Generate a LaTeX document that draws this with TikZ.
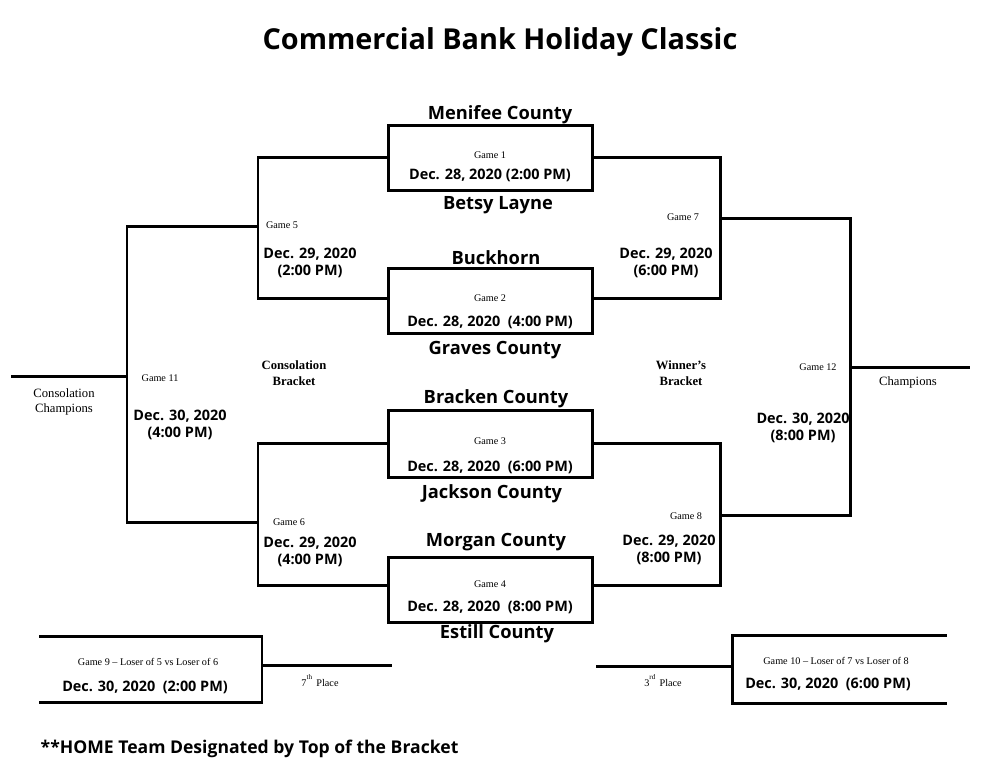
\documentclass[tikz,border=0pt]{standalone}
\usepackage{fontspec}
\setmainfont{Liberation Serif}
\newfontfamily\osans{Open Sans}
\begin{document}
\begin{tikzpicture}[x=0.01cm,y=-0.01cm,
  ln/.style={line width=0.85pt,line cap=rect},
  team/.style={font=\osans\bfseries\fontsize{5.2}{6}\selectfont},
  date/.style={font=\osans\bfseries\fontsize{4.1}{5}\selectfont,align=center},
  gm/.style={font=\fontsize{2.9}{3.4}\selectfont},
  lab/.style={font=\fontsize{3.6}{4.2}\selectfont,align=center},
  blab/.style={font=\bfseries\fontsize{3.6}{4.4}\selectfont,align=center}]
\useasboundingbox (0,0) rectangle (1000,772);
\node[font=\osans\bfseries\fontsize{8.2}{9.5}\selectfont] (title) at (500,42) {Commercial Bank Holiday Classic};
% first round boxes
\foreach \n/\t/\b in {g1/125/190,g2/268/333,g3/410/477,g4/557/622}{
  \draw[ln] (388,\t) rectangle (592,\b);}
\coordinate (c1) at (388,157); \coordinate (c2) at (388,298);
\coordinate (c3) at (388,443); \coordinate (c4) at (388,585);
\coordinate (d1) at (592,157); \coordinate (d2) at (592,298);
\coordinate (d3) at (592,443); \coordinate (d4) at (592,585);
\draw[ln] (c1) -| (258,298) -- (c2);
\draw[ln] (c3) -| (258,585) -- (c4);
\draw[ln] (d1) -| (720,298) -- (d2);
\draw[ln] (d3) -| (720,585) -- (d4);
\draw[ln] (720,218) -| (850,515) -- (720,515);
\draw[ln] (850,367) -- (968,367);
\draw[ln] (258,226) -| (127,522) -- (258,522);
\draw[ln] (127,376) -- (12,376);
\draw[ln] (40,636) -| (262,702) -- (40,702);
\draw[ln] (262,665) -- (390,665);
\draw[ln] (945,635) -| (732,703) -- (945,703);
\draw[ln] (732,666) -- (597,666);
% teams
\node[team] (t1) at (500,115) {Menifee County};
\node[team] (t2) at (498,205) {Betsy Layne};
\node[team] (t3) at (496,258) {Buckhorn};
\node[team] (t4) at (495,350) {Graves County};
\node[team] (t5) at (496,399) {Bracken County};
\node[team] (t6) at (492,494) {Jackson County};
\node[team] (t7) at (496,542) {Morgan County};
\node[team] (t8) at (497,634) {Estill County};
% games
\node[gm] at (490,155) {Game 1};
\node[date] at (490,175) {Dec. 28, 2020 (2:00 PM)};
\node[gm] at (490,298) {Game 2};
\node[date] at (490,322) {Dec. 28, 2020 \ (4:00 PM)};
\node[gm] at (490,441) {Game 3};
\node[date] at (490,467) {Dec. 28, 2020 \ (6:00 PM)};
\node[gm] at (490,584) {Game 4};
\node[date] at (490,607) {Dec. 28, 2020 \ (8:00 PM)};
\node[gm] at (282,225) {Game 5};
\node[date] at (310,263) {Dec. 29, 2020\\(2:00 PM)};
\node[gm] at (289,522) {Game 6};
\node[date] at (310,552) {Dec. 29, 2020\\(4:00 PM)};
\node[gm] at (683,217) {Game 7};
\node[date] at (666,263) {Dec. 29, 2020\\ (6:00 PM)};
\node[gm] at (686,516) {Game 8};
\node[date] at (669,550) {Dec. 29, 2020\\(8:00 PM)};
\node[gm] at (160,378) {Game 11};
\node[date] at (180,425) {Dec. 30, 2020\\(4:00 PM)};
\node[gm] at (818,367) {Game 12};
\node[date] at (803,428) {Dec. 30, 2020\\(8:00 PM)};
\node[blab] at (294,373) {Consolation\\Bracket};
\node[blab] at (681,373) {Winner's\\Bracket};
\node[lab] at (64,402) {Consolation\\Champions};
\node[lab] at (908,382) {Champions};
\node[gm] at (148,662) {Game 9 -- Loser of 5 vs Loser of 6};
\node[date] at (145,687) {Dec. 30, 2020 \ (2:00 PM)};
\node[gm] at (836,661) {Game 10 -- Loser of 7 vs Loser of 8};
\node[date] at (828,684) {Dec. 30, 2020 \ (6:00 PM)};
\node[gm] at (320,681) {7\textsuperscript{th} Place};
\node[gm] at (663,681) {3\textsuperscript{rd} Place};
\node[font=\osans\bfseries\fontsize{5}{6}\selectfont,anchor=west,inner sep=0pt] (note) at (40,749) {**HOME Team Designated by Top of the Bracket};
\end{tikzpicture}
\end{document}
